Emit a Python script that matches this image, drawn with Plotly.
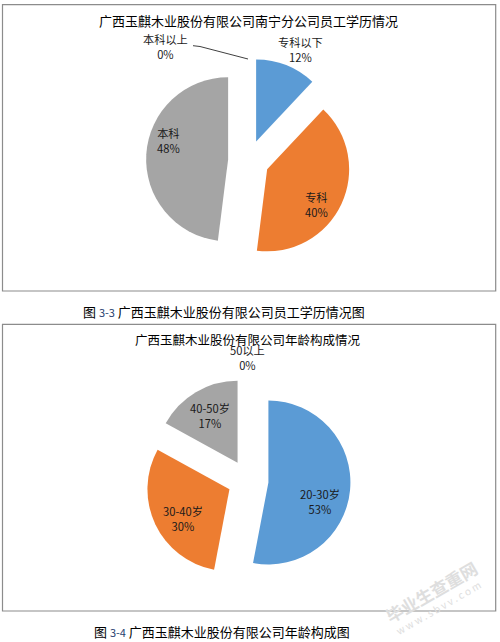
import plotly.graph_objects as go

# Chart 1: education
edu_title = "广西玉麒木业股份有限公司南宁分公司员工学历情况"
edu_labels = ["专科以下", "专科", "本科", "本科以上"]
edu_values = [12, 40, 48, 0]
edu_caption_no = "3-3"
edu_caption = "广西玉麒木业股份有限公司员工学历情况图"

# Chart 2: age
age_title = "广西玉麒木业股份有限公司年龄构成情况"
age_labels = ["20-30岁", "30-40岁", "40-50岁", "50以上"]
age_values = [53, 30, 17, 0]
age_caption_no = "3-4"
age_caption = "广西玉麒木业股份有限公司年龄构成图"

# data-label centre positions (pixels from top-left), one per slice
edu_label_pos = [(300, 49.5), (316, 204), (168.5, 140), (165, 46.5)]
age_label_pos = [(320, 501), (183, 518), (210, 415), (247.5, 357)]

colors = ["#5B9BD5", "#ED7D31", "#A5A5A5", "#FFC000"]
FONT = "Noto Sans CJK SC, Noto Sans, sans-serif"
W, H = 500, 642


def px(x):
    return x / W


def py(y):
    return 1 - y / H


fig = go.Figure()

fig.add_trace(go.Pie(
    labels=edu_labels, values=edu_values, sort=False, direction="clockwise",
    rotation=0, pull=[0.25] * 4, marker=dict(colors=colors),
    textinfo="none",
    domain=dict(x=[px(146.1), px(351.1)], y=[py(263.1), py(58.1)]),
    showlegend=False, hoverinfo="label+percent",
))

fig.add_trace(go.Pie(
    labels=age_labels, values=age_values, sort=False, direction="clockwise",
    rotation=0, pull=[0.25] * 4, marker=dict(colors=colors),
    textinfo="none",
    domain=dict(x=[px(145.5), px(350.5)], y=[py(583), py(378)]),
    showlegend=False, hoverinfo="label+percent",
))

shapes = [
    dict(type="rect", xref="paper", yref="paper", x0=px(2.5), x1=px(495.7),
         y0=py(291), y1=py(4.7), line=dict(color="#8c8c8c", width=1.2)),
    dict(type="rect", xref="paper", yref="paper", x0=px(2.5), x1=px(495.7),
         y0=py(611), y1=py(324.3), line=dict(color="#8c8c8c", width=1.2)),
    # leader line for the zero slice of chart 1
    dict(type="path", xref="paper", yref="paper",
         path=f"M {px(193)} {py(45.7)} L {px(200)} {py(46.5)} L {px(248)} {py(59)}",
         line=dict(color="#404040", width=1)),
]

ann = []


def text(x, y, s, size=12, color="#000"):
    ann.append(dict(x=px(x), y=py(y), xref="paper", yref="paper", text=s,
                    showarrow=False, xanchor="center", yanchor="middle",
                    font=dict(family=FONT, size=size, color=color)))


def data_labels(labels, values, positions):
    total = sum(values)
    for lab, val, (x, y) in zip(labels, values, positions):
        text(x, y, f"{lab}<br>{round(100 * val / total)}%", 11.2, "#1a1a1a")


text(248, 20, edu_title, 13)
text(247.7, 340, age_title, 12.5)
text(223.5, 311,
     f"图 <span style='font-size:11px;color:#27406e'>{edu_caption_no}</span> {edu_caption}", 13)
text(222, 631,
     f"图 <span style='font-size:11px;color:#27406e'>{age_caption_no}</span> {age_caption}", 13)

data_labels(edu_labels, edu_values, edu_label_pos)
data_labels(age_labels, age_values, age_label_pos)

# faint watermark of the source page
ann.append(dict(x=px(431), y=py(591), xref="paper", yref="paper",
                xanchor="center", yanchor="middle",
                text="<b>毕业生查重网</b>", showarrow=False, textangle=-30,
                font=dict(family=FONT, size=17, color="#dedede")))
ann.append(dict(x=px(438), y=py(607), xref="paper", yref="paper",
                xanchor="center", yanchor="middle",
                text="w w w . s b v v . c o m", showarrow=False, textangle=-30,
                font=dict(family=FONT, size=10, color="#dedede")))

fig.update_layout(
    width=W, height=H, margin=dict(l=0, r=0, t=0, b=0),
    paper_bgcolor="white", plot_bgcolor="white",
    shapes=shapes, annotations=ann,
)

fig.write_html("out.html", config={"displayModeBar": False},
               post_script="document.body.style.margin='0';document.body.style.padding='0';")
